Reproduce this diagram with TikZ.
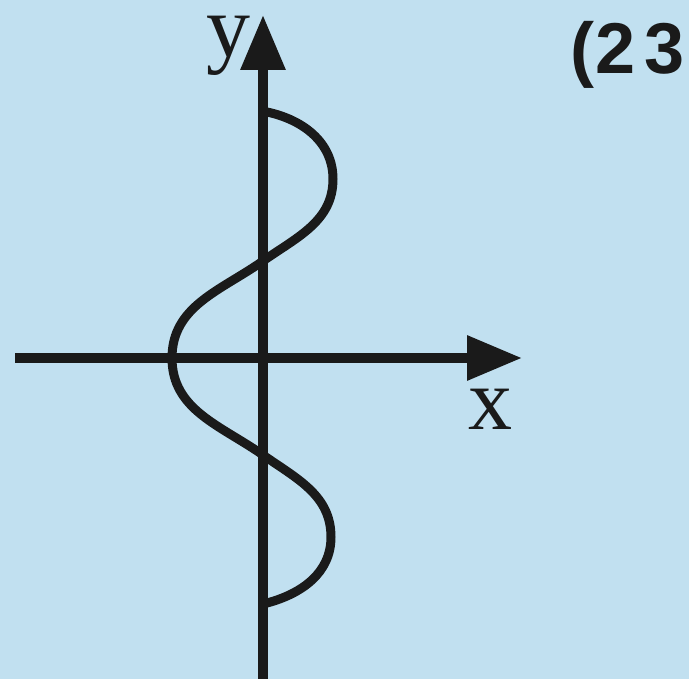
\documentclass[tikz,border=0pt]{standalone}
\usepackage{fontspec}
\setmainfont{Liberation Serif}
\newfontfamily\labelsans{Liberation Sans}
\usetikzlibrary{arrows.meta}
\definecolor{bgblue}{RGB}{193,224,240}
\definecolor{ink}{RGB}{26,26,26}
\tikzset{
  axisline/.style={draw=ink, line width=9.5pt, -{Triangle[length=55pt,width=43pt]}},
  curveline/.style={draw=ink, line width=9pt},
  axislabel/.style={inner sep=0pt, text=ink, font=\fontsize{88}{88}\selectfont},
  tagtext/.style={inner sep=0pt, text=ink, anchor=base west, font=\labelsans\bfseries\fontsize{72}{72}\selectfont}
}
\begin{document}
\begin{tikzpicture}[x=1pt,y=-1pt]
\useasboundingbox (0,0) rectangle (689,679);
\fill[bgblue] (0,0) rectangle (689,679);
\clip (0,0) rectangle (689,679);
% axes
\coordinate (ybot) at (263,690);
\coordinate (ytip) at (263,15);
\coordinate (xleft) at (15,358);
\coordinate (xtip) at (522,358);
\draw[axisline] (ybot) -- (ytip);
\draw[axisline] (xleft) -- (xtip);
% curve
\coordinate (p0) at (267,112);
\coordinate (p1) at (333,179);
\coordinate (p2) at (263,261);
\coordinate (p3) at (172,358);
\coordinate (p4) at (263,455);
\coordinate (p5) at (331,537);
\coordinate (p6) at (267,603);
\draw[curveline] (p0) to[out=-12,in=90] (p1) to[out=-90,in=35] (p2)
  to[out=215,in=90] (p3) to[out=-90,in=145] (p4)
  to[out=-35,in=90] (p5) to[out=-90,in=15] (p6);
% labels
\node[axislabel] (ylab) at (228,46) {y};
\node[axislabel] (xlab) at (490,409) {x};
\node[tagtext] (tag) at (570,74) {(\kern1pt2\kern9pt3};
\end{tikzpicture}
\end{document}
